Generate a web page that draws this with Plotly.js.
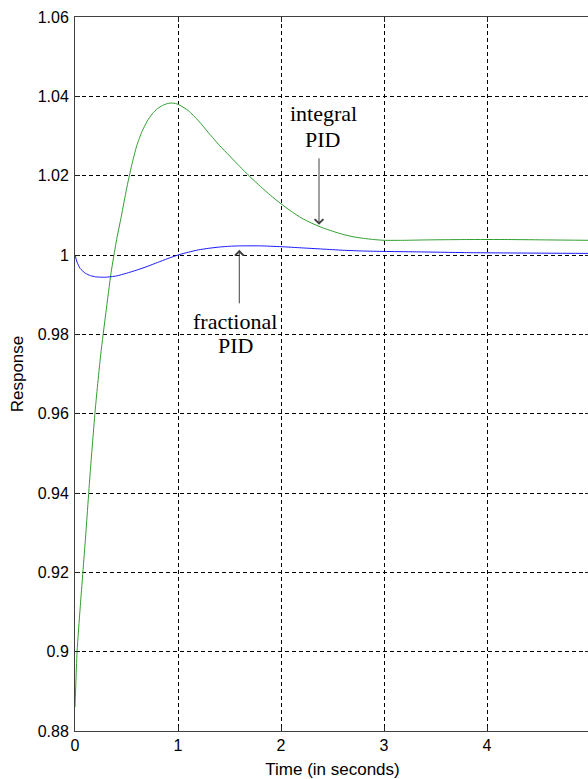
<!DOCTYPE html>
<html>
<head>
<meta charset="utf-8">
<script src="https://cdn.plot.ly/plotly-3.0.1.min.js"></script>
<style>
html, body { margin: 0; padding: 0; overflow: hidden; background: #fff; }
#chart { width: 590px; height: 779px; }
</style>
</head>
<body>
<div id="chart"></div>
<script>
// Integral PID response (green)
const tIntegral = [0, 0.02, 0.05, 0.1, 0.15, 0.2, 0.25, 0.3, 0.35, 0.4, 0.45, 0.5, 0.55, 0.6, 0.65, 0.7, 0.75, 0.8, 0.85, 0.9, 0.95, 1.0, 1.1, 1.2, 1.3, 1.4, 1.5, 1.6, 1.7, 1.8, 1.9, 2.0, 2.1, 2.2, 2.3, 2.4, 2.5, 2.6, 2.7, 2.8, 2.9, 3.0, 3.2, 3.4, 3.8, 4.2, 4.6, 5.0];
const yIntegral = [0.886, 0.900, 0.911, 0.928, 0.946, 0.962, 0.975, 0.9855, 0.9955, 1.0033, 1.0098, 1.0166, 1.0226, 1.0276, 1.0311, 1.0337, 1.0356, 1.0369, 1.0377, 1.0382, 1.0383, 1.0380, 1.0364, 1.0338, 1.0307, 1.0277, 1.0250, 1.0223, 1.0197, 1.0173, 1.0150, 1.0129, 1.0110, 1.0093, 1.0080, 1.0069, 1.0060, 1.0052, 1.0046, 1.0042, 1.0039, 1.0037, 1.0037, 1.0038, 1.0039, 1.0039, 1.0038, 1.0037];

// Fractional PID response (blue)
const tFractional = [0, 0.02, 0.05, 0.1, 0.15, 0.2, 0.25, 0.3, 0.4, 0.5, 0.6, 0.7, 0.8, 0.9, 1.0, 1.1, 1.2, 1.3, 1.4, 1.5, 1.6, 1.8, 2.0, 2.2, 2.4, 2.6, 2.8, 3.0, 3.3, 3.8, 4.3, 5.0];
const yFractional = [1.0, 0.9982, 0.9966, 0.9954, 0.9948, 0.9945, 0.9944, 0.9944, 0.9947, 0.9954, 0.9962, 0.9971, 0.9981, 0.9991, 1.0000, 1.0007, 1.0013, 1.0017, 1.0020, 1.0022, 1.0023, 1.0023, 1.0021, 1.0018, 1.0015, 1.0012, 1.0010, 1.0009, 1.0008, 1.0006, 1.0005, 1.0004];

const xTicks = [0, 1, 2, 3, 4, 5];
const yTicks = [0.88, 0.9, 0.92, 0.94, 0.96, 0.98, 1, 1.02, 1.04, 1.06];
const yTickText = ['0.88', '0.9', '0.92', '0.94', '0.96', '0.98', '1', '1.02', '1.04', '1.06'];

const traces = [
  { x: tIntegral, y: yIntegral, mode: 'lines', name: 'integral PID',
    line: { color: '#2f9e2f', width: 1, shape: 'spline', smoothing: 0.5 } },
  { x: tFractional, y: yFractional, mode: 'lines', name: 'fractional PID',
    line: { color: '#1a1aff', width: 1, shape: 'spline', smoothing: 0.5 } }
];

const sans = 'Liberation Sans, Arial, sans-serif';
const axisCommon = {
  showline: true, linecolor: '#404040', linewidth: 1, mirror: 'ticks',
  ticks: 'inside', ticklen: 5, tickcolor: '#202020', tickwidth: 1,
  showgrid: true, gridcolor: '#000000', gridwidth: 1, griddash: '4px,3px',
  zeroline: false,
  tickfont: { family: sans, size: 16, color: '#000' }
};

const serif = { family: 'Liberation Serif, Times New Roman, serif', size: 22, color: '#000' };

function label(text, x, y) {
  return { x: x, y: y, xref: 'x', yref: 'y', text: text, showarrow: false,
           font: serif, xanchor: 'center', yanchor: 'middle' };
}

const layout = {
  width: 590, height: 779,
  margin: { l: 75, r: 0, t: 17, b: 48 },
  paper_bgcolor: '#fff', plot_bgcolor: '#fff',
  showlegend: false,
  xaxis: Object.assign({}, axisCommon, {
    range: [0, 5], tickvals: xTicks, ticktext: xTicks.map(String),
    title: { text: 'Time (in seconds)', font: { family: sans, size: 17, color: '#000' }, standoff: 9 }
  }),
  yaxis: Object.assign({}, axisCommon, {
    range: [0.88, 1.06], tickvals: yTicks, ticktext: yTickText, ticklabelstandoff: 2,
    title: { text: 'Response', font: { family: sans, size: 17, color: '#000' }, standoff: 9 }
  }),
  annotations: [
    label('integral', 2.417, 1.0356),
    label('PID', 2.40, 1.0291),
    { x: 2.369, y: 1.0076, xref: 'x', yref: 'y', text: '', showarrow: true,
      ax: 0, ay: -68, arrowhead: 4, arrowsize: 1.7, arrowwidth: 1, arrowcolor: '#404040' },
    label('fractional', 1.549, 0.9833),
    label('PID', 1.563, 0.9773),
    { x: 1.595, y: 1.0013, xref: 'x', yref: 'y', text: '', showarrow: true,
      ax: 0, ay: 55, arrowhead: 4, arrowsize: 1.7, arrowwidth: 1, arrowcolor: '#404040' }
  ]
};

Plotly.newPlot('chart', traces, layout, { displayModeBar: false, staticPlot: true });
</script>
</body>
</html>
